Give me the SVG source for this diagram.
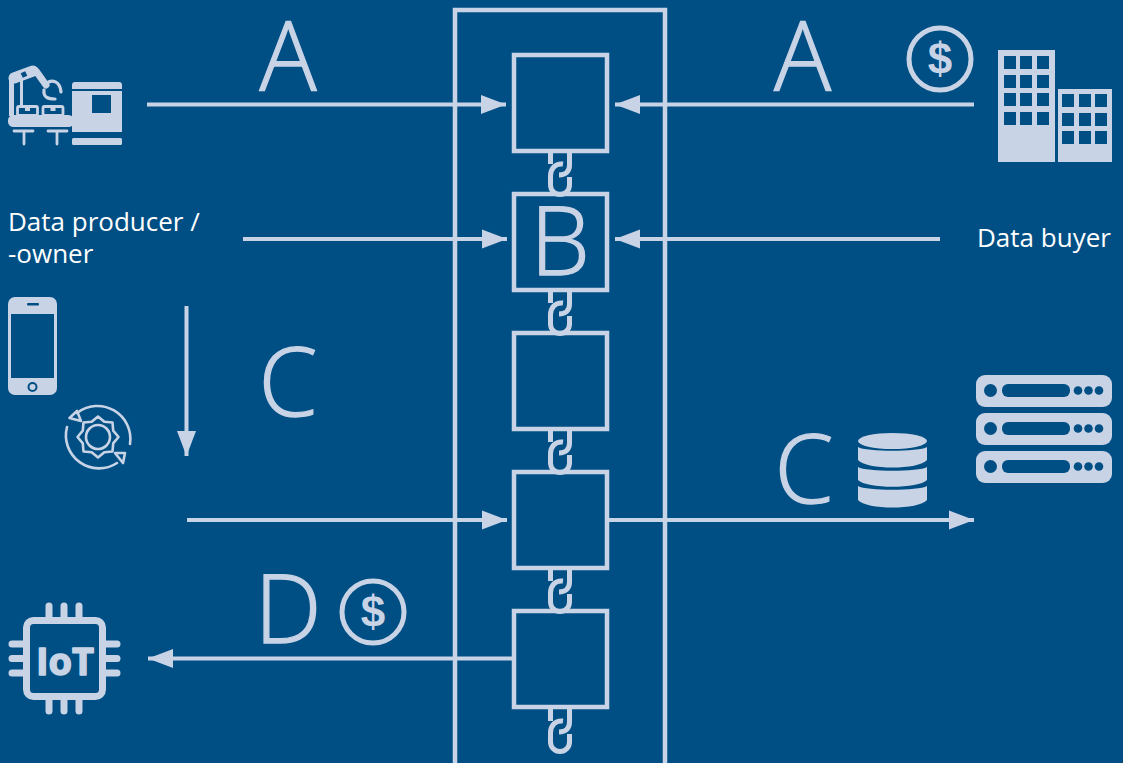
<svg xmlns="http://www.w3.org/2000/svg" width="1123" height="763" viewBox="0 0 1123 763">
<style>
.bg{fill:#004f84}
.f{fill:#c8d3e6}
.d{fill:#004f84}
.s{fill:none;stroke:#c8d3e6}
.box{fill:none;stroke:#c8d3e6;stroke-width:4.500}
.conn{fill:none;stroke:#c8d3e6;stroke-width:4}
.big{font-family:"Open Sans","Noto Sans","Liberation Sans",sans-serif;font-weight:300;font-size:95px;fill:#c8d3e6;stroke:#c8d3e6;stroke-width:1.300;text-anchor:middle}
.lab{font-family:"Open Sans","Noto Sans","Liberation Sans",sans-serif;font-size:26px;fill:#fff}
.usd{font-family:"Liberation Sans",Arial,sans-serif;font-weight:700;font-size:44px;fill:#c8d3e6;text-anchor:middle}
</style>
<defs>
<marker id="ah" markerUnits="userSpaceOnUse" markerWidth="26" markerHeight="20" refX="25" refY="10" orient="auto"><path d="M0,0.500L25,10L0,19.500Z" fill="#c8d3e6"/></marker>
<g id="link" fill="none" stroke="#c8d3e6" stroke-width="5">
<path d="M-9.500,0V13M9.500,0V14C9.500,20 6,24 -1,24"/>
<path d="M3,13C-5,12 -9.500,18 -9.500,25V34A9.500,9.500 0 0 0 9.500,34V26"/>
</g>
<g id="coin"><circle r="31" fill="none" stroke="#c8d3e6" stroke-width="5"/><text class="usd" y="15">$</text></g>
</defs>
<rect class="bg" width="1123" height="763"/>
<g id="connectors">
<path class="conn" marker-end="url(#ah)" d="M147,104.500H506"/>
<path class="conn" marker-end="url(#ah)" d="M974,104.500H615"/>
<path class="conn" marker-end="url(#ah)" d="M243,239H507"/>
<path class="conn" marker-end="url(#ah)" d="M940,239H615"/>
<path class="conn" marker-end="url(#ah)" d="M186.500,306V456"/>
<path class="conn" marker-end="url(#ah)" d="M187,520H507"/>
<path class="conn" marker-end="url(#ah)" d="M608,520H974"/>
<path class="conn" marker-end="url(#ah)" d="M512,658.500H148"/>
</g>
<g id="platform"><rect class="box" x="455" y="10" width="210" height="760"/></g>
<g id="chain-block-1"><rect class="box" x="514" y="55" width="93" height="96"/><use href="#link" x="560" y="151"/></g>
<g id="chain-block-2"><rect class="box" x="514" y="194" width="93" height="96"/><use href="#link" x="560" y="290"/><text class="big" x="560" y="275">B</text></g>
<g id="chain-block-3"><rect class="box" x="514" y="333" width="93" height="96"/><use href="#link" x="560" y="429"/></g>
<g id="chain-block-4"><rect class="box" x="514" y="472" width="93" height="96"/><use href="#link" x="560" y="568"/></g>
<g id="chain-block-5"><rect class="box" x="514" y="611" width="93" height="96"/><use href="#link" x="560" y="708"/></g>
<g id="label-a-left"><text class="big" x="288" y="90">A</text></g>
<g id="label-a-right"><text class="big" x="802.500" y="90">A</text></g>
<g id="label-c-left"><text class="big" x="288" y="416">C</text></g>
<g id="label-c-right"><text class="big" x="804" y="503">C</text></g>
<g id="label-d"><text class="big" x="288" y="643">D</text></g>
<g id="label-producer"><text class="lab" x="8" y="231">Data producer /</text><text class="lab" x="8" y="263">-owner</text></g>
<g id="label-buyer"><text class="lab" x="977" y="247">Data buyer</text></g>
<g id="coin-right"><use href="#coin" x="940" y="59"/></g>
<g id="coin-left"><use href="#coin" x="373" y="612"/></g>
<g id="factory">
<rect class="f" x="8" y="115" width="66" height="12" rx="5.500"/>
<path class="f" d="M75,82Q72,82 72,85V89H122V85Q122,82 119,82Z"/>
<path class="f" fill-rule="evenodd" d="M72,91H122V132H72ZM92,95V113H111V95Z"/>
<rect class="f" x="72" y="138" width="50" height="7" rx="1.500"/>
<path class="s" stroke-width="2.800" stroke-linecap="round" d="M14,131H33M24,131V144M48,131H67M57,131V144"/>
<rect class="s" stroke-width="2.800" x="17.500" y="106.500" width="20" height="9" rx="1.500"/>
<rect class="s" stroke-width="2.800" x="43" y="106.500" width="20" height="9" rx="1.500"/>
<path class="f" d="M25,106H30V111H25ZM50.500,106H55.500V111H50.500Z"/>
<path class="s" stroke-width="11" stroke-linecap="round" d="M14,78L33,71"/>
<path class="s" stroke-width="7" stroke-linecap="round" d="M36,71L46,85"/>
<path class="f" d="M9,80H14V116H9ZM20,78H23V106H20Z"/>
<path class="s" stroke-width="3.200" stroke-linecap="round" d="M47,83C52,79 60,81 61,92M44,90C43,98 49,99 55,99"/>
<rect class="d" x="21.500" y="72" width="5" height="5" transform="rotate(-25 24 74.500)"/>
</g>
<g id="phone">
<rect class="f" x="8" y="297" width="49" height="98" rx="7"/>
<rect class="d" x="11" y="314" width="43" height="64"/>
<rect class="d" x="27" y="303" width="12" height="2.500" rx="1"/>
<circle cx="32.500" cy="387" r="4" fill="none" stroke="#004f84" stroke-width="2"/>
</g>
<g id="gear">
<path class="s" stroke-width="2.600" stroke-linecap="round" d="M77,413A33,33 0 0 1 130,444M67,427A33,33 0 0 0 117,463"/>
<path class="s" stroke-width="2.600" stroke-linejoin="round" d="M69.500,418L77,411L81,421Z"/>
<path class="s" stroke-width="2.600" stroke-linejoin="round" d="M125,453L115,453L123,463Z"/>
<path class="s" stroke-width="2.600" stroke-linejoin="round" d="M118.500,437L113.200,443.300L112.500,451.500L104.300,452.200L98,457.500L91.700,452.200L83.500,451.500L82.800,443.300L77.500,437L82.800,430.700L83.500,422.500L91.700,421.800L98,416.500L104.300,421.800L112.500,422.500L113.200,430.700Z"/>
<circle class="s" stroke-width="2.600" cx="98" cy="437" r="12"/>
</g>
<g id="iot">
<rect class="s" stroke-width="7" x="26.500" y="620.500" width="76" height="76" rx="7"/>
<path class="s" stroke-width="7" stroke-linecap="round" d="M49,606V617M64,606V617M79,606V617M49,700V711M64,700V711M79,700V711M12,644H23M12,658.500H23M12,673H23M106,644H117M106,658.500H117M106,673H117"/>
<text x="65" y="675" text-anchor="middle" font-family="'Open Sans','Liberation Sans',sans-serif" font-weight="700" font-size="38" fill="#c8d3e6" stroke="#c8d3e6" stroke-width="1.500" stroke-linejoin="round">IoT</text>
</g>
<g id="buildings">
<rect class="f" x="998" y="50" width="57" height="112"/>
<rect class="f" x="1058" y="89" width="54" height="73"/>
<path class="d" d="M1004,56h12v13h-12zM1020,56h12v13h-12zM1037,56h12v13h-12zM1004,75h12v13h-12zM1020,75h12v13h-12zM1037,75h12v13h-12zM1004,93h12v13h-12zM1020,93h12v13h-12zM1037,93h12v13h-12zM1004,112h12v13h-12zM1020,112h12v13h-12zM1037,112h12v13h-12zM1062,94h12v13h-12zM1079,94h12v13h-12zM1095,94h12v13h-12zM1062,113h12v13h-12zM1079,113h12v13h-12zM1095,113h12v13h-12zM1062,131h12v13h-12zM1079,131h12v13h-12zM1095,131h12v13h-12z"/>
</g>
<g id="servers">
<rect class="f" x="976" y="375" width="136" height="32" rx="9"/>
<rect class="f" x="976" y="413" width="136" height="32" rx="9"/>
<rect class="f" x="976" y="451" width="136" height="32" rx="9"/>
<g class="d">
<circle cx="990.500" cy="390.500" r="6.500"/><rect x="1002" y="384" width="68" height="13" rx="6"/><circle cx="1078" cy="390.500" r="4.300"/><circle cx="1088.500" cy="390.500" r="4.300"/><circle cx="1099" cy="390.500" r="4.300"/>
<circle cx="990.500" cy="428.500" r="6.500"/><rect x="1002" y="422" width="68" height="13" rx="6"/><circle cx="1078" cy="428.500" r="4.300"/><circle cx="1088.500" cy="428.500" r="4.300"/><circle cx="1099" cy="428.500" r="4.300"/>
<circle cx="990.500" cy="466.500" r="6.500"/><rect x="1002" y="460" width="68" height="13" rx="6"/><circle cx="1078" cy="466.500" r="4.300"/><circle cx="1088.500" cy="466.500" r="4.300"/><circle cx="1099" cy="466.500" r="4.300"/>
</g>
</g>
<g id="database">
<ellipse class="f" cx="892.500" cy="441" rx="34.500" ry="8"/>
<path class="f" d="M858,447C866,452 919,452 927,447V460C919,470 866,470 858,460Z"/>
<path class="f" d="M858,467C866,472 919,472 927,467V480C919,489 866,489 858,480Z"/>
<path class="f" d="M858,486C866,491 919,491 927,486V500C919,510 866,510 858,500Z"/>
</g>
</svg>
